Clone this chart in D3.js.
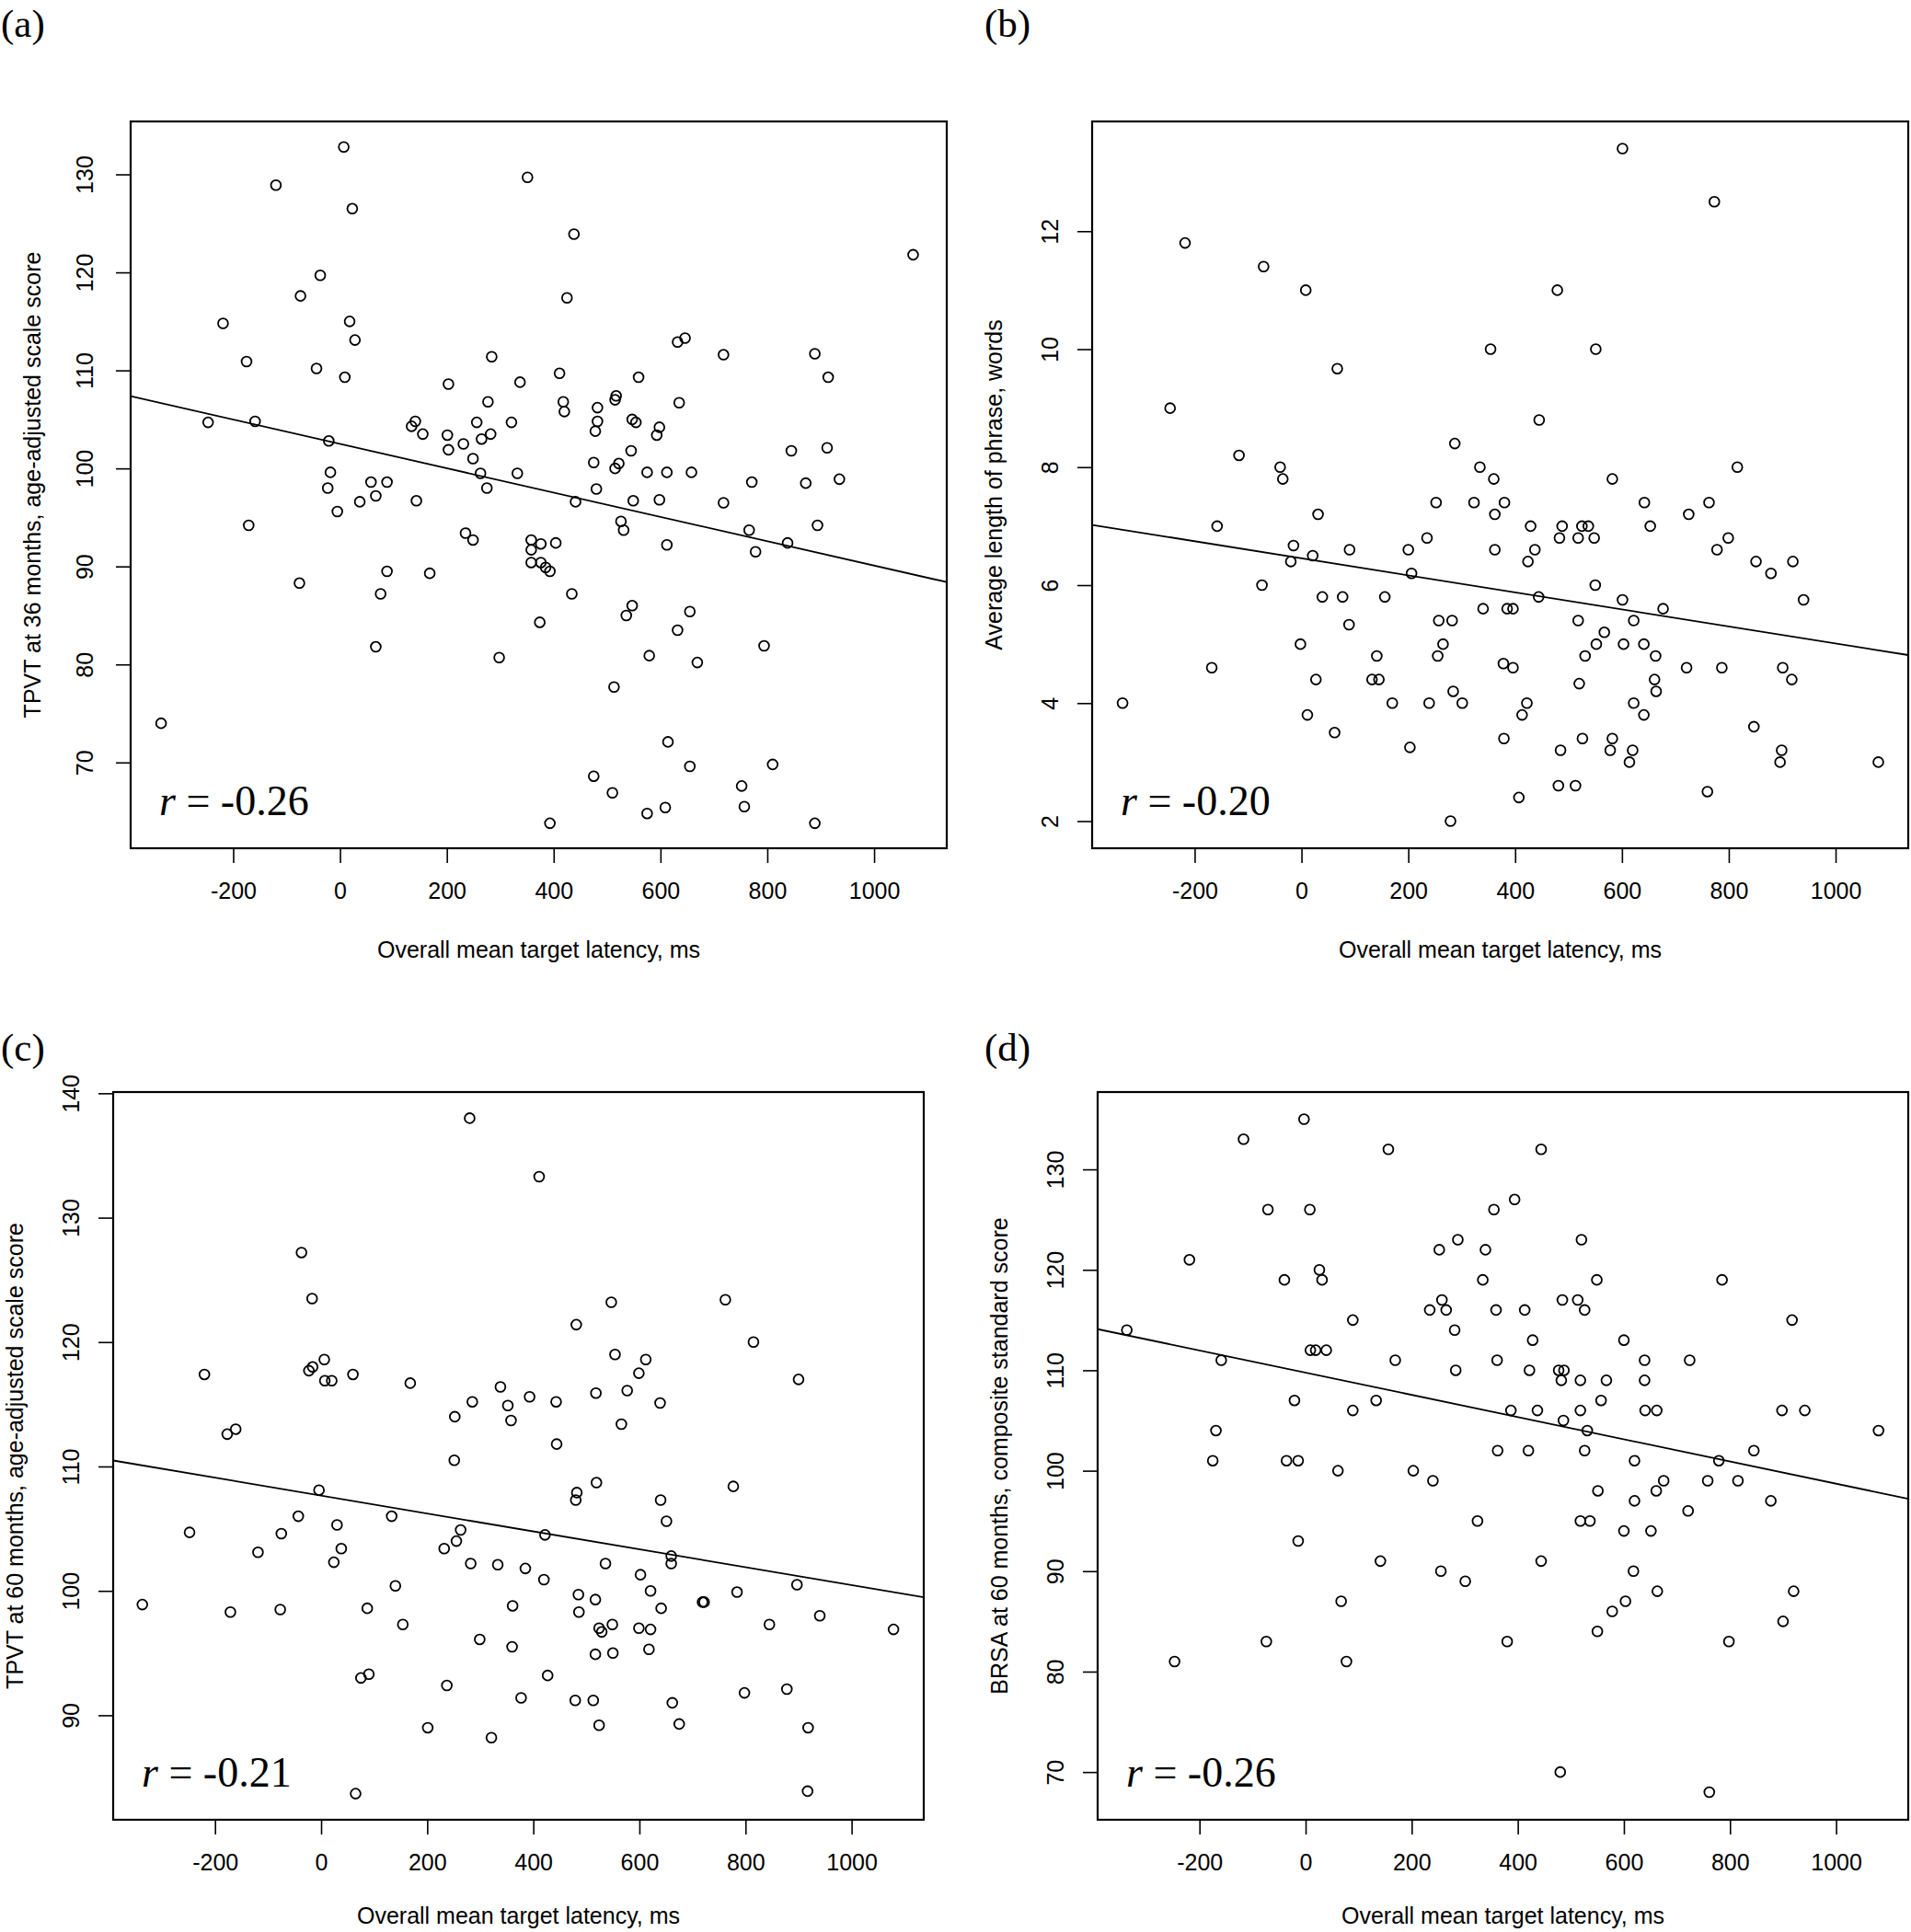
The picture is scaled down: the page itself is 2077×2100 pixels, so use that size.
<!DOCTYPE html>
<html>
<head>
<meta charset="utf-8">
<script src="https://cdn.jsdelivr.net/npm/d3@7"></script>
<style>
  html, body { margin: 0; padding: 0; background: #fff; }
  svg { display: block; }
</style>
</head>
<body>
<script>
// ---------------- DATA ----------------
const panelLetters = ["(a)", "(b)", "(c)", "(d)"];
const yTitles = [
  "TPVT at 36 months, age-adjusted scale score",
  "Average length of phrase, words",
  "TPVT at 60 months, age-adjusted scale score",
  "BRSA at 60 months, composite standard score"
];
const xTitle = "Overall mean target latency, ms";
const xTicks = [-200, 0, 200, 400, 600, 800, 1000];
const yTicksA = [70, 80, 90, 100, 110, 120, 130];
const yTicksB = [2, 4, 6, 8, 10, 12];
const yTicksC = [90, 100, 110, 120, 130, 140];
const yTicksD = [70, 80, 90, 100, 110, 120, 130];
const xDomain = [-392, 1136];
const yDomainA = [61.25, 135.4];
const yDomainB = [1.54, 13.86];
const yDomainC = [81.6, 140.1];
const yDomainD = [65.25, 137.7];
const rLabels = ["-0.26", "-0.20", "-0.21", "-0.26"];
const fitIntercepts = [102.5, 6.455, 107.66, 109.76];
const fitSlopes = [-0.01241, -0.001444, -0.0072, -0.01105];

const aX = [-335,-247,-219,-175,-171,-159,-120,-76,-74,-37,-44,-21,-18,-23,-5,7,23,18,28,9,37,58,67,67,76,88,88,134,141,155,143,168,201,203,203,231,235,249,249,256,263,265,275,277,282,284,298,321,332,337,351,358,358,358,376,374,376,385,393,393,404,411,418,420,425,434,441,438,475,478,482,482,480,475,510,513,515,515,517,522,526,531,536,545,547,554,547,549,559,575,575,579,593,598,598,612,612,614,609,632,635,632,646,655,658,655,669,718,718,752,757,766,771,778,794,810,838,845,872,889,894,889,912,914,935,1073];
const aY = [74.0,104.7,114.8,110.9,94.2,104.8,128.9,88.3,117.6,119.7,110.2,102.8,99.6,98.0,95.6,132.8,126.5,115.0,113.1,109.3,96.6,98.6,97.2,81.8,87.2,98.6,89.5,104.3,104.8,103.5,96.7,89.3,103.4,108.6,101.9,102.5,93.4,92.7,101.0,104.7,99.5,103.0,98.0,106.8,103.5,111.4,80.7,104.7,99.5,108.8,129.7,92.7,91.7,90.4,92.3,84.3,90.4,89.9,89.5,63.8,92.4,109.7,106.8,105.8,117.4,87.2,96.6,123.9,100.6,103.8,104.8,106.2,97.9,68.6,66.9,77.7,100.0,107.0,107.4,100.5,94.6,93.7,85.0,101.8,105.0,104.7,86.0,96.7,109.3,99.6,64.8,80.9,103.4,104.2,96.8,99.6,92.2,72.1,65.4,83.5,106.7,112.9,113.3,69.6,99.6,85.4,80.2,96.5,111.6,67.6,65.5,93.7,98.6,91.5,81.9,69.8,92.4,101.8,98.5,111.7,94.2,63.8,102.1,109.3,98.9,121.8];

const bX = [-335,-246,-218,-168,-158,-117,-74,-71,-40,-35,-20,-15,-2,8,11,21,27,31,39,62,67,77,90,89,132,141,145,156,170,200,203,206,235,239,252,255,257,265,279,282,284,287,301,323,334,340,354,360,362,362,378,379,380,385,396,396,407,413,422,424,429,437,444,445,479,481,483,485,488,513,518,518,520,525,526,531,537,548,550,551,552,567,578,582,582,601,601,603,614,620,622,622,641,641,642,653,661,663,664,677,721,725,760,763,773,778,787,799,816,847,851,879,896,899,901,918,920,940,1080];
const bY = [4.0,9.0,11.8,4.6,7.0,8.2,6.0,11.4,8.0,7.8,6.4,6.67,5.0,11.0,3.8,6.5,4.4,7.2,5.8,3.5,9.67,5.8,6.6,5.33,4.4,4.8,4.4,5.8,4.0,6.6,3.25,6.2,6.8,4.0,7.4,4.8,5.4,5.0,2.0,5.4,4.2,8.4,4.0,7.4,8.0,5.6,10.0,7.8,7.2,6.6,4.67,3.4,7.4,5.6,5.6,4.6,2.4,3.8,4.0,6.4,7.0,6.6,5.8,8.8,11.0,2.6,6.8,3.2,7.0,2.6,6.8,5.4,4.33,7.0,3.4,4.8,7.0,6.8,6.0,10.0,5.0,5.2,3.2,3.4,7.8,13.4,5.75,5.0,3.0,3.2,4.0,5.4,5.0,3.8,7.4,7.0,4.4,4.8,4.2,5.6,4.6,7.2,2.5,7.4,12.5,6.6,4.6,6.8,8.0,3.6,6.4,6.2,3.0,3.2,4.6,4.4,6.4,5.75,3.0];

const cX = [-337,-248,-220,-177,-161,-171,-119,-75,-77,-43,-37,-17,-23,-16,6,7,20,-4,30,38,24,60,65,75,90,87,133,140,154,168,201,232,237,251,252,255,263,280,282,285,299,321,333,338,352,358,361,360,377,385,393,411,420,422,427,443,444,480,482,481,479,485,486,513,517,517,518,519,524,529,524,536,547,549,550,554,566,577,599,602,599,612,621,621,618,639,640,641,651,660,660,662,675,719,722,762,777,784,798,815,845,878,897,900,918,917,940,1079];
const cY = [98.9,104.7,117.4,112.6,113.0,98.3,103.1,104.6,98.5,106.0,127.2,123.5,117.7,118.0,118.6,116.9,116.9,108.1,105.3,103.4,102.3,117.4,83.7,93.0,93.3,98.6,106.0,100.4,97.3,116.7,89.0,103.4,92.4,110.5,114.0,104.0,104.9,138.0,102.2,115.2,96.1,88.2,102.1,116.4,114.9,113.7,98.8,95.5,91.4,101.8,115.6,133.3,100.9,104.5,93.2,115.2,111.8,107.3,107.9,121.4,91.2,99.7,98.3,91.2,99.3,94.9,115.9,108.7,97.0,96.7,89.2,102.2,123.2,97.3,95.0,119.0,113.4,116.1,117.5,101.3,97.0,118.6,100.0,96.9,95.3,115.1,107.3,98.6,105.6,102.8,102.2,91.0,89.3,99.1,99.1,123.4,108.4,99.9,91.8,120.0,97.3,92.1,100.5,117.0,89.0,83.9,98.0,96.9];

const dX = [-337,-247,-219,-175,-169,-159,-117,-71,-74,-40,-36,-21,-14,-14,-3,8,9,19,26,31,39,61,67,77,89,89,133,141,156,169,203,234,240,252,255,257,265,281,283,287,301,324,334,339,355,359,361,362,380,387,394,413,420,422,428,437,444,444,477,482,484,487,486,480,513,518,518,518,520,526,526,531,536,549,551,550,557,567,578,600,600,603,618,620,620,639,639,640,651,661,662,663,675,721,724,758,761,779,785,798,815,845,877,898,900,917,920,941,1080];
const dY = [114,81,121,101,104,111,133,126,83,119,101,107,101,93,135,126,112,112,120,119,112,100,87,81,106,115,107,91,132,111,100,116,99,122,90,117,116,114,110,123,89,95,119,122,126,116,111,102,83,106,127,116,102,110,113,106,132,91,110,109,117,110,105,70,117,109,106,95,123,116,102,104,95,119,98,84,107,109,86,113,94,87,90,101,97,111,109,106,94,98,106,88,99,96,111,99,68,101,119,83,99,102,97,106,85,115,88,106,104];

// ---------------- LAYOUT ----------------
const W = 2077, H = 2100;
const SANS = "'Liberation Sans', Arial, Helvetica, sans-serif";
const SERIF = "'Liberation Serif', 'Times New Roman', Times, serif";
const plainFmt = d => String(d);   // ASCII hyphen-minus, as in the reference

const panels = [
  { xs: aX, ys: aY, yDomain: yDomainA, yTicks: yTicksA, box: [142, 1029, 132, 922], letterPos: [1, 40], yLabOff: 50, xTitleOff: 110 },
  { xs: bX, ys: bY, yDomain: yDomainB, yTicks: yTicksB, box: [1187, 2074, 132, 922], letterPos: [1070, 40], yLabOff: 46, xTitleOff: 110 },
  { xs: cX, ys: cY, yDomain: yDomainC, yTicks: yTicksC, box: [123, 1004, 1187, 1978], letterPos: [1, 1153], yLabOff: 46, xTitleOff: 104 },
  { xs: dX, ys: dY, yDomain: yDomainD, yTicks: yTicksD, box: [1193, 2074, 1187, 1978], letterPos: [1070, 1153], yLabOff: 46, xTitleOff: 104 }
];

const svg = d3.select("body").append("svg")
  .attr("width", W).attr("height", H)
  .attr("viewBox", `0 0 ${W} ${H}`);
svg.append("rect").attr("width", W).attr("height", H).attr("fill", "#fff");

panels.forEach((p, i) => {
  const [L, R, T, B] = p.box;
  const x = d3.scaleLinear().domain(xDomain).range([L, R]);
  const y = d3.scaleLinear().domain(p.yDomain).range([B, T]);
  const g = svg.append("g");

  const clipId = "clip" + i;
  svg.append("clipPath").attr("id", clipId)
    .append("rect").attr("x", L).attr("y", T).attr("width", R - L).attr("height", B - T);

  // x axis
  const gx = g.append("g").attr("transform", `translate(0,${B})`)
    .call(d3.axisBottom(x).tickValues(xTicks).tickSize(16).tickFormat(plainFmt));
  gx.select(".domain").remove();
  gx.selectAll("line").attr("stroke", "#000").attr("stroke-width", 1.6);
  gx.selectAll("text").attr("y", 46).attr("dy", "0.35em")
    .attr("font-family", SANS).attr("font-size", 25).attr("fill", "#000");

  // y axis
  const gy = g.append("g").attr("transform", `translate(${L},0)`)
    .call(d3.axisLeft(y).tickValues(p.yTicks).tickSize(16).tickFormat(plainFmt));
  gy.select(".domain").remove();
  gy.selectAll("line").attr("stroke", "#000").attr("stroke-width", 1.6);
  gy.selectAll("text")
    .attr("x", 0).attr("y", 0).attr("dy", "0.35em")
    .attr("transform", `translate(${-p.yLabOff},0) rotate(-90)`)
    .attr("text-anchor", "middle")
    .attr("font-family", SANS).attr("font-size", 25).attr("fill", "#000");

  // box
  g.append("rect").attr("x", L).attr("y", T).attr("width", R - L).attr("height", B - T)
    .attr("fill", "none").attr("stroke", "#000").attr("stroke-width", 2.2);

  // points
  const pts = p.xs.map((v, k) => [v, p.ys[k]]);
  g.append("g").selectAll("circle").data(pts).join("circle")
    .attr("cx", d => x(d[0])).attr("cy", d => y(d[1])).attr("r", 5.4)
    .attr("fill", "none").attr("stroke", "#000").attr("stroke-width", 1.8);

  // regression line
  const fx = v => fitIntercepts[i] + fitSlopes[i] * v;
  g.append("line").attr("clip-path", `url(#${clipId})`)
    .attr("x1", x(xDomain[0])).attr("y1", y(fx(xDomain[0])))
    .attr("x2", x(xDomain[1])).attr("y2", y(fx(xDomain[1])))
    .attr("stroke", "#000").attr("stroke-width", 1.8);

  // r label
  const rt = g.append("text").attr("x", L + 31).attr("y", B - 36)
    .attr("font-family", SERIF).attr("font-size", 46).attr("fill", "#000");
  rt.append("tspan").attr("font-style", "italic").text("r");
  rt.append("tspan").text(" = " + rLabels[i]);

  // titles
  g.append("text").attr("x", (L + R) / 2).attr("y", B + p.xTitleOff).attr("dy", "0.35em")
    .attr("text-anchor", "middle").attr("font-family", SANS).attr("font-size", 25)
    .attr("fill", "#000").text(xTitle);
  g.append("text")
    .attr("transform", `translate(${L - 107},${(T + B) / 2}) rotate(-90)`)
    .attr("dy", "0.35em").attr("text-anchor", "middle")
    .attr("font-family", SANS).attr("font-size", 25).attr("fill", "#000")
    .text(yTitles[i]);

  // panel letter
  g.append("text").attr("x", p.letterPos[0]).attr("y", p.letterPos[1])
    .attr("font-family", SERIF).attr("font-size", 43).attr("fill", "#000")
    .text(panelLetters[i]);
});
</script>
</body>
</html>
